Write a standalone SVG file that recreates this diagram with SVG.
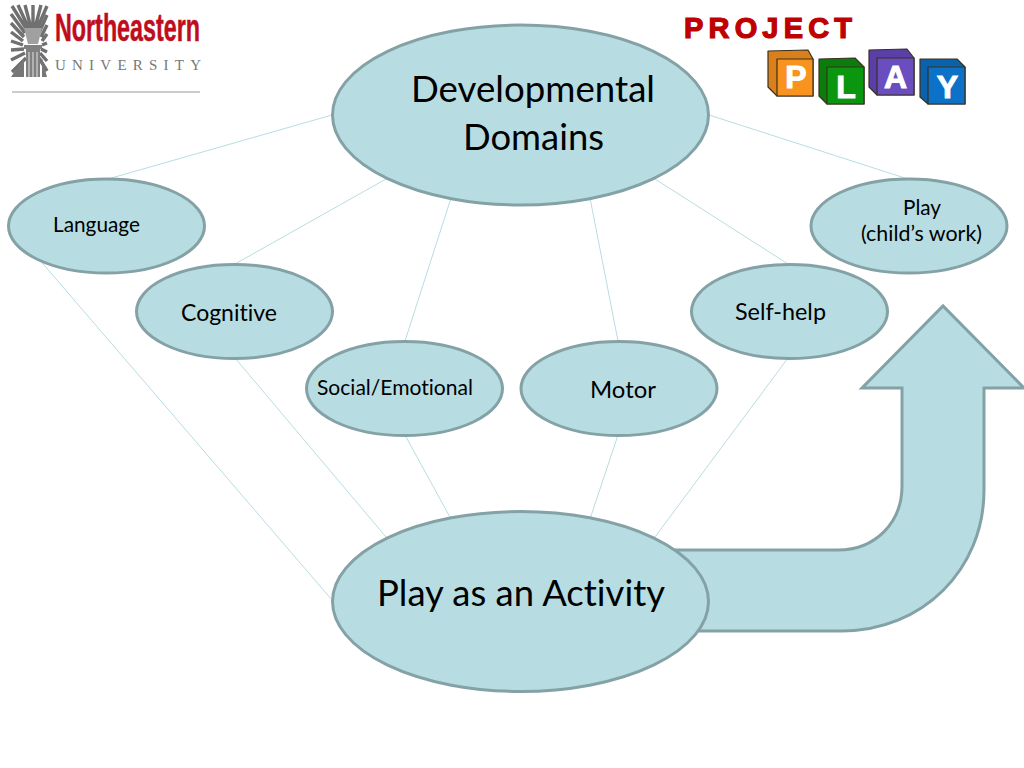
<svg xmlns="http://www.w3.org/2000/svg" width="1024" height="768" viewBox="0 0 1024 768">
<style>
text{font-family:Lato,"Open Sans","Liberation Sans",sans-serif;fill:#000;font-variant-ligatures:none}
.n{fill:#b7dde2;stroke:#84a2a6;stroke-width:3}
.c{stroke:#b7dde0;stroke-width:1;fill:none}
.s{font-size:21px}.m{font-size:23px}.l{font-size:37px}
.b{stroke:#3a3020;stroke-width:1.2;stroke-linejoin:round}
.bl{font-family:"Liberation Sans",sans-serif;font-weight:700;font-size:32px;fill:#fff;stroke:#fff;stroke-width:1;text-anchor:middle}
.r{stroke:#707070;stroke-width:3.4}
</style>
<rect width="1024" height="768" fill="#fff"/>
<g id="logo-northeastern">
<g class="r">
<path d="M27 30L12 6M29 29L18 5M31 28L25 5M33 28L33 5M35 28L41 5M37 29L47 6M25 33L11 14M24 37L11 23M23 41L11 32M23 45L11 41M24 49L11 50M25 53L11 60M26 58L12 72M39 33L47 15M41 37L47 25M42 41L47 34M42 45L47 43M41 49L47 52M40 53L47 61M39 58L47 71"/>
</g>
<path d="M24 28h18l-4 16h-10z" fill="#a0a0a0"/>
<path d="M24 45h18v4h-18zM26 49h14v28h-14z" fill="#808080"/>
<path d="M29 52v25M33 52v25M37 52v25" stroke="#e4e4e4" stroke-width="1"/>
<path d="M11 77L24 58V77zM47 77L42 58V77z" fill="#777"/>
<text x="55" y="40.500" textLength="145" lengthAdjust="spacingAndGlyphs" style="font-family:'Liberation Sans',sans-serif;font-weight:700;font-size:38px;fill:#c00d1e;stroke:#c00d1e;stroke-width:.5">Northeastern</text>
<text x="55" y="70" textLength="146" style="font-family:'Liberation Serif',serif;font-size:15px;fill:#777">UNIVERSITY</text>
<line x1="12" y1="92" x2="200" y2="92" stroke="#999" stroke-width="1"/>
</g>
<g id="logo-project-play">
<text x="684" y="38" textLength="168" style="font-family:'Liberation Sans',sans-serif;font-weight:700;font-size:29px;fill:#c00000;stroke:#c00000;stroke-width:1.2">PROJECT</text>
<g id="block-p"><path class="b" d="M768 51L808 50L813 59V96L777 96L768 87Z" fill="#d9801a"/><rect class="b" x="777" y="59" width="36" height="37" fill="#f7931e"/><text class="bl" x="796" y="88">P</text></g>
<g id="block-l"><path class="b" d="M819 59L855 58L864 67V104L827 104L819 96Z" fill="#0b7d0b"/><rect class="b" x="827" y="67" width="37" height="37" fill="#0a960f"/><text class="bl" x="846" y="98">L</text></g>
<g id="block-a"><path class="b" d="M869 50L907 49L914 58V95L877 95L869 87Z" fill="#5a3fa8"/><rect class="b" x="877" y="58" width="37" height="37" fill="#6a4dbe"/><text class="bl" x="895.500" y="88">A</text></g>
<g id="block-y"><path class="b" d="M920 59L957 59L965 67V104L928 104L920 97Z" fill="#0a62ad"/><rect class="b" x="928" y="67" width="37" height="37" fill="#0b72c8"/><text class="bl" x="947.500" y="98">Y</text></g>
</g>
<g id="connectors">
<line class="c" x1="332" y1="115" x2="108" y2="179"/>
<line class="c" x1="709" y1="115" x2="908" y2="179"/>
<line class="c" x1="386" y1="179" x2="235" y2="264"/>
<line class="c" x1="451" y1="198" x2="405" y2="341"/>
<line class="c" x1="590" y1="198" x2="618" y2="341"/>
<line class="c" x1="655" y1="179" x2="788" y2="264"/>
<line class="c" x1="38" y1="258" x2="332" y2="600"/>
<line class="c" x1="235" y1="358" x2="386" y2="537"/>
<line class="c" x1="405" y1="435" x2="451" y2="519"/>
<line class="c" x1="618" y1="435" x2="590" y2="519"/>
<line class="c" x1="788" y1="358" x2="655" y2="537"/>
</g>
<g id="arrow">
<path class="n" d="M660 550H838C875 550 902 523 902 486V388H862L943 306L1024 388H984V490C984 570 922 631 842 631H690Z"/>
</g>
<g id="node-developmental"><ellipse class="n" cx="520.500" cy="115" rx="188" ry="90"/><text class="l" x="411" y="102" textLength="244" lengthAdjust="spacingAndGlyphs">Developmental</text><text class="l" x="463" y="150" textLength="141" lengthAdjust="spacingAndGlyphs">Domains</text></g>
<g id="node-language"><ellipse class="n" cx="106.500" cy="226" rx="98" ry="47"/><text class="s" x="53" y="232" textLength="87" lengthAdjust="spacingAndGlyphs">Language</text></g>
<g id="node-cognitive"><ellipse class="n" cx="234.500" cy="311.500" rx="98" ry="47"/><text class="m" x="181" y="321" textLength="96" lengthAdjust="spacingAndGlyphs">Cognitive</text></g>
<g id="node-social"><ellipse class="n" cx="404.500" cy="388.500" rx="98" ry="47"/><text class="s" x="317" y="395" textLength="156" lengthAdjust="spacingAndGlyphs">Social/Emotional</text></g>
<g id="node-motor"><ellipse class="n" cx="619" cy="388.500" rx="98" ry="47"/><text class="m" x="590" y="398" textLength="66" lengthAdjust="spacingAndGlyphs">Motor</text></g>
<g id="node-selfhelp"><ellipse class="n" cx="789.500" cy="311.500" rx="98" ry="47"/><text class="m" x="735" y="320" textLength="91" lengthAdjust="spacingAndGlyphs">Self-help</text></g>
<g id="node-play"><ellipse class="n" cx="909" cy="226" rx="98" ry="47"/><text class="s" x="903" y="215" textLength="38" lengthAdjust="spacingAndGlyphs">Play</text><text class="s" x="861" y="241" textLength="121" lengthAdjust="spacingAndGlyphs">(child’s work)</text></g>
<g id="node-activity"><ellipse class="n" cx="520.500" cy="601.500" rx="188" ry="90"/><text class="l" x="377" y="606" textLength="288" lengthAdjust="spacingAndGlyphs">Play as an Activity</text></g>
</svg>
